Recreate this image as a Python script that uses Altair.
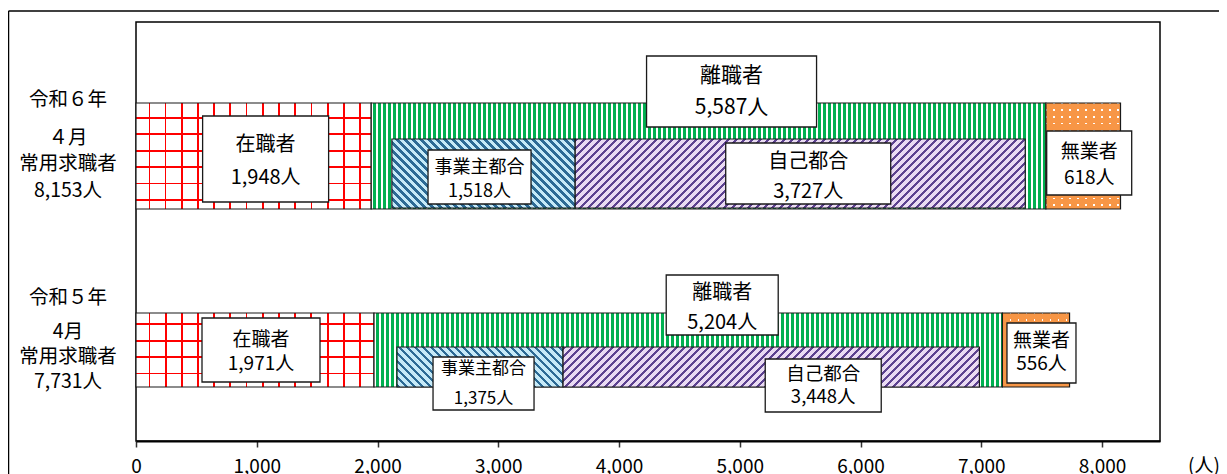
import altair as alt
import pandas as pd

# ---------------- data ----------------
years = ["令和６年", "令和５年"]
months = ["４月", "4月"]
row_title = "常用求職者"
totals = [8153, 7731]
employed = [1948, 1971]          # 在職者
separated = [5587, 5204]         # 離職者
employer_reason = [1518, 1375]   # 事業主都合
own_reason = [3727, 3448]        # 自己都合
unemployed = [618, 556]          # 無業者
x_ticks = [0, 1000, 2000, 3000, 4000, 5000, 6000, 7000, 8000]
unit_label = "(人)"

# ---------------- layout / style ----------------
FONT = "Noto Sans CJK JP"
W, H = 1024, 419
XMAX = 8480
PX = W / XMAX

rows = []
for i, yr in enumerate(years):
    e0, e1 = 0, employed[i]
    s0, s1 = e1, e1 + separated[i]
    u0, u1 = s1, s1 + unemployed[i]
    gap = (separated[i] - employer_reason[i] - own_reason[i]) / 2
    j0 = s0 + gap
    j1 = j0 + employer_reason[i]
    o0, o1 = j1, j1 + own_reason[i]
    for cat, a, b, v in [("在職者", e0, e1, employed[i]),
                         ("離職者", s0, s1, separated[i]),
                         ("事業主都合", j0, j1, employer_reason[i]),
                         ("自己都合", o0, o1, own_reason[i]),
                         ("無業者", u0, u1, unemployed[i])]:
        rows.append(dict(yi=i, year=yr, cat=cat, start=a, end=b, mid=(a + b) / 2,
                         label=f"{cat}\n{v:,}人"))
df = pd.DataFrame(rows)

bar_h = {0: 106, 1: 74}
sub_h = {0: 69, 1: 40}
sub_off = {0: 17.5, 1: 17}

# (box dx, box dy, box w, box h, font size, line height, text block centre dy)
label_style = {
    (0, "在職者"): (12, 3, 126, 86, 20, 33, 5),
    (0, "離職者"): (23, -64.5, 170, 71, 21, 32, -64),
    (0, "事業主都合"): (-4, 21, 103, 54, 18, 24, 24),
    (0, "自己都合"): (8, 17.5, 165, 61, 20, 30, 21),
    (0, "無業者"): (6, 7, 85, 64, 19, 26, 9),
    (1, "在職者"): (6, 0, 118, 64, 19, 24, 2),
    (1, "離職者"): (34, -45, 112, 60, 20, 30, -42),
    (1, "事業主都合"): (3.5, 33.5, 101, 53, 17, 30, 34),
    (1, "自己都合"): (52, 35.5, 116, 53, 18.5, 23, 36),
    (1, "無業者"): (5.5, 3, 69, 60, 19, 23, 3),
}
# (head dy, body centre dy, body line height)
row_style = {0: (-56, 8, 26.5), 1: (-52, 7, 25)}

xscale = alt.Scale(domain=[0, XMAX], nice=False, zero=True)
XAXIS = alt.Axis(values=x_ticks, labelExpr="format(datum.value, ',')", title=None, grid=False,
                 domainColor="black", domainWidth=2,
                 tickColor="#333", tickSize=6, tickWidth=1.5,
                 labelFont=FONT, labelFontSize=19, labelColor="black", labelFlush=False,
                 labelPadding=10, labelBaseline="top")
yscale = alt.Scale(domain=years, paddingInner=0.5, paddingOuter=0.33, align=0.668)
Y = alt.Y("year:N", scale=yscale, axis=None, sort=years)

CLEAR = "rgba(255,255,255,0)"
ORANGE = "#f79646"


def stripe_stops(length, period, on, c_on, c_off, phase=0.0):
    stops = []

    def add(p, c):
        o = min(max(p / length, 0.0), 1.0)
        stops.append({"offset": round(o, 5), "color": c})

    pos = phase - period
    while pos < length:
        if pos + period > 0:
            add(pos, c_on)
            add(pos + on, c_on)
            add(pos + on, c_off)
            add(pos + period, c_off)
        pos += period
    return stops


def lin(stops, x1, y1, x2, y2):
    return {"gradient": "linear", "x1": x1, "y1": y1, "x2": x2, "y2": y2, "stops": stops}


def diag(wb, hb, period, on, c_on, c_off, direction):
    k = (wb + hb) / (wb * wb + hb * hb)
    stops = stripe_stops(wb + hb, period, on, c_on, c_off)
    if direction == "/":
        return lin(stops, 0, 0, k * wb, k * hb)
    return lin(stops, 0, 1, k * wb, 1 - k * hb)


STROKE = "#1a1a1a"
layers = []
for i in range(len(years)):
    for cat in ["在職者", "離職者", "無業者", "事業主都合", "自己都合"]:
        sub = df[(df.yi == i) & (df.cat == cat)]
        r = sub.iloc[0]
        wb = (r.end - r.start) * PX
        if cat in ("事業主都合", "自己都合"):
            hb = sub_h[i]
            yoff = sub_off[i]
        else:
            hb = bar_h[i]
            yoff = 0
        enc = dict(x=alt.X("start:Q", scale=xscale, axis=XAXIS), x2="end:Q", y=Y)
        if cat == "在職者":
            vfill = lin(stripe_stops(wb, 16.2, 1.8, "#ff0000", "#ffffff", 12.5), 0, 0, 1, 0)
            hfill = lin(stripe_stops(hb, 16.4, 1.8, "#ff0000", CLEAR,
                                     14 if i == 0 else 10.5), 0, 0, 0, 1)
            layers.append(alt.Chart(sub).mark_bar(fill=vfill, size=hb, strokeWidth=0).encode(**enc))
            layers.append(alt.Chart(sub).mark_bar(fill=hfill, size=hb, stroke=STROKE,
                                                  strokeWidth=1.2).encode(**enc))
        elif cat == "離職者":
            fill = lin(stripe_stops(wb, 5.0, 3.0, "#00b050", "#ffffff", 1.5), 0, 0, 1, 0)
            layers.append(alt.Chart(sub).mark_bar(fill=fill, size=hb, stroke=STROKE,
                                                  strokeWidth=1.2).encode(**enc))
        elif cat == "無業者":
            # white base, then orange with transparent gaps in both directions -> white dots
            vfill = lin(stripe_stops(wb, 8.0, 6.4, ORANGE, CLEAR, 1.0), 0, 0, 1, 0)
            hfill = lin(stripe_stops(hb, 6.8, 5.2, ORANGE, CLEAR, 1.0), 0, 0, 0, 1)
            layers.append(alt.Chart(sub).mark_bar(fill="#ffffff", size=hb, strokeWidth=0).encode(**enc))
            layers.append(alt.Chart(sub).mark_bar(fill=vfill, size=hb, strokeWidth=0).encode(**enc))
            layers.append(alt.Chart(sub).mark_bar(fill=hfill, size=hb, stroke=STROKE,
                                                  strokeWidth=1.2).encode(**enc))
        elif cat == "事業主都合":
            fill = diag(wb, hb, 8.0, 3.6, "#2c6a95", "#c6eaf8", "\\")
            layers.append(alt.Chart(sub).mark_bar(fill=fill, size=hb, yOffset=yoff, stroke=STROKE,
                                                  strokeWidth=1.2).encode(**enc))
        elif cat == "自己都合":
            fill = diag(wb, hb, 8.0, 3.6, "#5d4290", "#eadbf3", "/")
            layers.append(alt.Chart(sub).mark_bar(fill=fill, size=hb, yOffset=yoff, stroke=STROKE,
                                                  strokeWidth=1.2).encode(**enc))

# label boxes and texts
for (i, cat), (dx, dy, bw, bh, fs, lh, tdy) in label_style.items():
    sub = df[(df.yi == i) & (df.cat == cat)]
    r = bh / bw
    path = f"M-1,-{r:.4f}L1,-{r:.4f}L1,{r:.4f}L-1,{r:.4f}Z"
    enc = dict(x=alt.X("mid:Q", scale=xscale, axis=XAXIS), y=Y)
    layers.append(alt.Chart(sub).mark_point(shape=path, size=bw * bw, filled=True, fill="white",
                                            stroke=STROKE, strokeWidth=1.3, opacity=1,
                                            xOffset=dx, yOffset=dy).encode(**enc))
    layers.append(alt.Chart(sub).mark_text(font=FONT, fontSize=fs, lineHeight=lh, lineBreak="\n",
                                           color="black", align="center", baseline="middle",
                                           dx=dx, dy=tdy - lh / 2).encode(text="label:N", **enc))

# row labels
rl = pd.DataFrame({"year": years,
                   "head": years,
                   "body": [f"{months[i]}\n{row_title}\n{totals[i]:,}人" for i in range(len(years))]})
for i in range(len(years)):
    hdy, bdy, blh = row_style[i]
    sub = rl.iloc[[i]]
    layers.append(alt.Chart(sub).mark_text(font=FONT, fontSize=19.5, color="black", dy=hdy)
                  .encode(text="head:N", y=Y, x=alt.value(-68)))
    layers.append(alt.Chart(sub).mark_text(font=FONT, fontSize=19.5, color="black", dy=bdy - blh,
                                           lineBreak="\n", lineHeight=blh)
                  .encode(text="body:N", y=Y, x=alt.value(-68)))

one = pd.DataFrame({"u": [unit_label]})
layers.append(alt.Chart(one).mark_rule(color="black", strokeWidth=1.5)
              .encode(x=alt.value(-127.5), y=alt.value(-11), y2=alt.value(H + 60)))
layers.append(alt.Chart(one).mark_rule(color="black", strokeWidth=1.5)
              .encode(x=alt.value(-127.5), x2=alt.value(W + 80), y=alt.value(-11)))
layers.append(alt.Chart(one).mark_text(font=FONT, fontSize=19, color="black", baseline="top")
              .encode(text="u:N", x=alt.value(1068), y=alt.value(H + 16)))

chart = (alt.layer(*layers)
         .properties(width=W, height=H, background="white",
                     padding={"left": 128, "top": 14, "right": 59, "bottom": 35},
                     autosize=alt.AutoSizeParams(type="none"))
         .configure_view(stroke="black", strokeWidth=1.5))

chart.save("out.html", embed_options={"renderer": "svg", "actions": False})
